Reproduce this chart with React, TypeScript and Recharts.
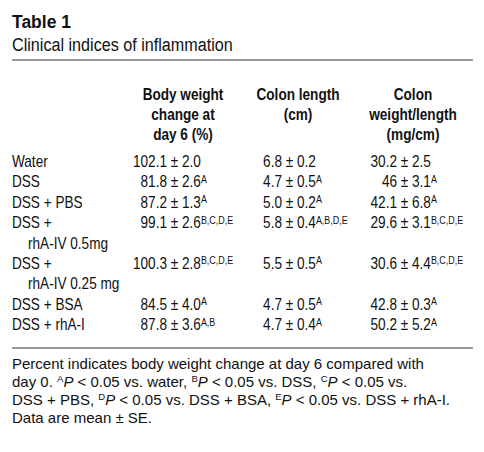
import React from 'react';
import { ScatterChart, Scatter, XAxis, YAxis, Customized } from 'recharts';

// rows of the table (wrapped labels keep their two lines)
const groupLines = [
  ['Water'],
  ['DSS'],
  ['DSS + PBS'],
  ['DSS +', 'rhA-IV 0.5mg'],
  ['DSS +', 'rhA-IV 0.25 mg'],
  ['DSS + BSA'],
  ['DSS + rhA-I'],
];

const columnHeaders = [
  ['Body weight', 'change at', 'day 6 (%)'],
  ['Colon length', '(cm)'],
  ['Colon', 'weight/length', '(mg/cm)'],
];

const bodyWeightMean = ['102.1', '81.8', '87.2', '99.1', '100.3', '84.5', '87.8'];
const bodyWeightSE = ['2.0', '2.6', '1.3', '2.6', '2.8', '4.0', '3.6'];
const bodyWeightSig = ['', 'A', 'A', 'B,C,D,E', 'B,C,D,E', 'A', 'A,B'];

const colonLengthMean = ['6.8', '4.7', '5.0', '5.8', '5.5', '4.7', '4.7'];
const colonLengthSE = ['0.2', '0.5', '0.2', '0.4', '0.5', '0.5', '0.4'];
const colonLengthSig = ['', 'A', 'A', 'A,B,D,E', 'A', 'A', 'A'];

const colonWeightMean = ['30.2', '46', '42.1', '29.6', '30.6', '42.8', '50.2'];
const colonWeightSE = ['2.5', '3.1', '6.8', '3.1', '4.4', '0.3', '5.2'];
const colonWeightSig = ['', 'A', 'A', 'B,C,D,E', 'B,C,D,E', 'A', 'A'];

const FONT = 'Liberation Sans, Arial, Helvetica, sans-serif';
const NARROW = 0.85; // condensed look of the table face
const INK = '#111';

const columns = [
  { mean: bodyWeightMean, se: bodyWeightSE, sig: bodyWeightSig },
  { mean: colonLengthMean, se: colonLengthSE, sig: colonLengthSig },
  { mean: colonWeightMean, se: colonWeightSE, sig: colonWeightSig },
];

// line slot where each group starts
const rowLine: number[] = [];
groupLines.forEach((lines, i) => {
  rowLine.push(i === 0 ? 0 : rowLine[i - 1] + groupLines[i - 1].length);
});
const labelLines = groupLines.flatMap((lines) => lines.map((text, j) => ({ text, indent: j > 0 })));
const lastLine = labelLines.length - 1;

const cellData = (col: number) =>
  groupLines.map((_, i) => ({
    x: col,
    y: rowLine[i],
    mean: columns[col].mean[i],
    se: columns[col].se[i],
    sig: columns[col].sig[i],
  }));

const ValueCell = (props: any) => {
  const { cx, cy, payload } = props;
  return (
    <g transform={`translate(${cx},${cy}) scale(${NARROW},1)`} fontFamily={FONT} fontSize={16} fill={INK}>
      <text textAnchor="end">{payload.mean}</text>
      <text textAnchor="start" style={{ whiteSpace: 'pre' }}>
        {' ± ' + payload.se}
        {payload.sig ? (
          <tspan fontSize={10.5} dy={-4.5}>
            {payload.sig}
          </tspan>
        ) : null}
      </text>
    </g>
  );
};

const GroupTick = (props: any) => {
  const { y, payload } = props;
  const line = labelLines[payload.value];
  if (!line) return null;
  return (
    <text
      transform={`translate(${line.indent ? 28 : 12},${y}) scale(${NARROW},1)`}
      fontFamily={FONT}
      fontSize={16}
      fill={INK}
    >
      {line.text}
    </text>
  );
};

const HeaderTick = (props: any) => {
  const { x, payload } = props;
  const lines = columnHeaders[payload.value] || [];
  return (
    <g>
      {lines.map((t, j) => (
        <text
          key={j}
          transform={`translate(${x + 16},${100 + j * 20}) scale(${NARROW},1)`}
          textAnchor="middle"
          fontFamily={FONT}
          fontSize={16}
          fontWeight="bold"
          fill={INK}
        >
          {t}
        </text>
      ))}
    </g>
  );
};

const Sup = ({ children }: { children: string }) => (
  <>
    <tspan fontSize={9.5} dy={-5}>
      {children}
    </tspan>
    <tspan fontStyle="italic" dy={5}>
      P
    </tspan>
  </>
);

const Decor = () => (
  <g fontFamily={FONT} fill={INK}>
    <text x={12} y={28} fontSize={17.5} fontWeight="bold">
      Table 1
    </text>
    <text transform={`translate(12,51) scale(${NARROW},1)`} fontSize={19}>
      Clinical indices of inflammation
    </text>
    <line x1={12} x2={473} y1={60} y2={60} stroke="#999" strokeWidth={2} />
    <line x1={12} x2={473} y1={348} y2={348} stroke="#999" strokeWidth={2} />
    <g fontSize={15} style={{ whiteSpace: 'pre' }}>
      <text x={12} y={369}>
        Percent indicates body weight change at day 6 compared with
      </text>
      <text x={12} y={387}>
        {'day 0. '}
        <Sup>A</Sup>
        {' < 0.05 vs. water, '}
        <Sup>B</Sup>
        {' < 0.05 vs. DSS, '}
        <Sup>C</Sup>
        {' < 0.05 vs.'}
      </text>
      <text x={12} y={405}>
        {'DSS + PBS, '}
        <Sup>D</Sup>
        {' < 0.05 vs. DSS + BSA, '}
        <Sup>E</Sup>
        {' < 0.05 vs. DSS + rhA-I.'}
      </text>
      <text x={12} y={423}>
        Data are mean ± SE.
      </text>
    </g>
  </g>
);

export default function App() {
  return (
    <div style={{ position: 'absolute', left: 0, top: 0, background: '#fff' }}>
      <ScatterChart width={484} height={452} margin={{ top: 87, right: 87, bottom: 122, left: 12 }}>
        <XAxis
          type="number"
          dataKey="x"
          orientation="top"
          domain={[0, 2]}
          ticks={[0, 1, 2]}
          interval={0}
          height={80}
          axisLine={false}
          tickLine={false}
          tick={<HeaderTick />}
        />
        <YAxis
          type="number"
          dataKey="y"
          reversed
          domain={[0, lastLine]}
          ticks={labelLines.map((_, k) => k)}
          interval={0}
          width={155}
          axisLine={false}
          tickLine={false}
          tick={<GroupTick />}
        />
        <Customized component={<Decor />} />
        {columns.map((_, col) => (
          <Scatter key={col} data={cellData(col)} shape={<ValueCell />} isAnimationActive={false} />
        ))}
      </ScatterChart>
    </div>
  );
}
